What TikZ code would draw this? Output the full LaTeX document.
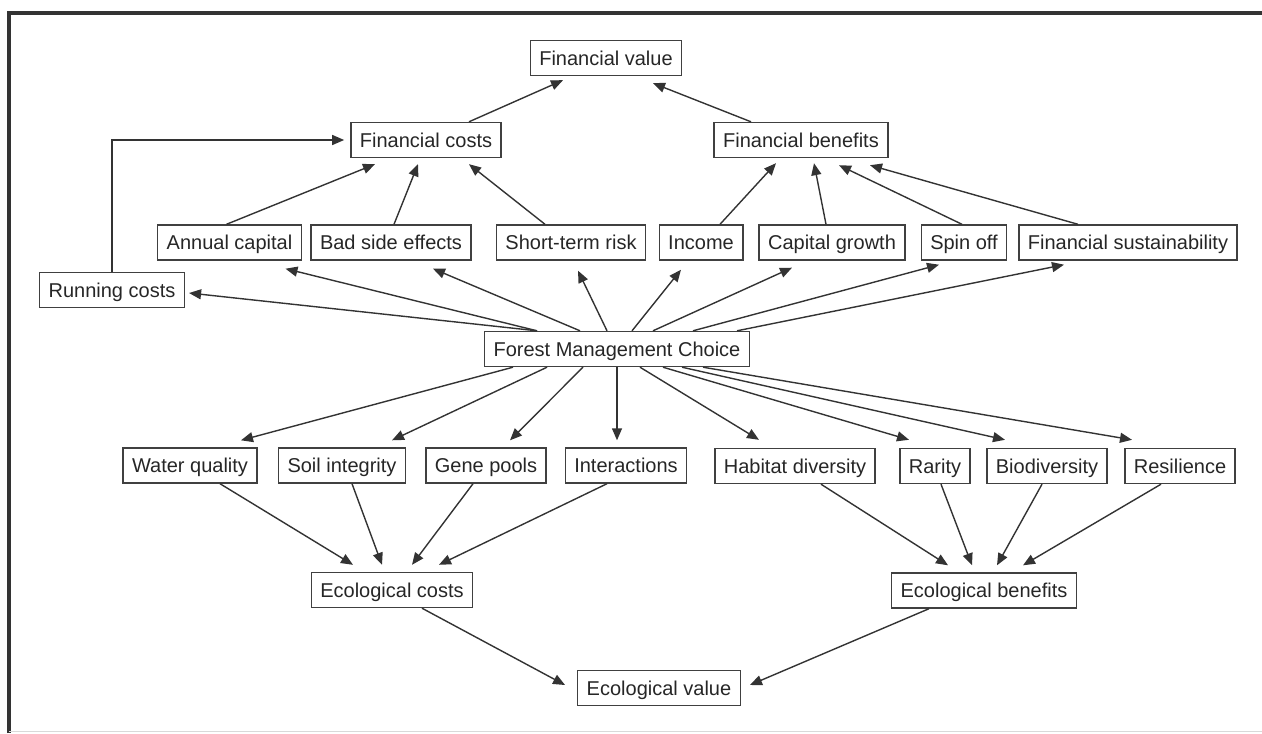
\documentclass[tikz,border=0pt]{standalone}
\usepackage{fontspec}
\setmainfont{Liberation Sans}
\usetikzlibrary{arrows.meta,calc}

\begin{document}
\begin{tikzpicture}[-{Triangle[length=6pt,width=5pt]},x=0.5pt,y=-0.5pt,line width=0.7pt,draw=black!80]
			\tikzstyle{box} = [rectangle,draw=black!75,line width=0.7pt,text=black!85,inner xsep=4.5pt,minimum height=17.5pt,text height=8pt,text depth=0.8pt]
			
			\useasboundingbox (0,0) rectangle (1262,733);
			\draw[-,line width=2pt,black!80] (9,733) -- (9,13) -- (1262,13);
			\draw[-,line width=0.5pt,black!15] (9,731) -- (1262,731);
			
			\node[box] (fv)  at (606,58)    {Financial value};
			\node[box] (fc)  at (426,140)   {Financial costs};
			\node[box] (fb)  at (801,140)   {Financial benefits};
			
			\node[box] (ac)  at (229.5,242.5) {Annual capital};
			\node[box] (bse) at (391,242.5)   {Bad side effects};
			\node[box] (str) at (571,242.5)   {Short-term risk};
			\node[box] (inc) at (701,242.5)   {Income};
			\node[box] (cg)  at (832,242.5)   {Capital growth};
			\node[box] (so)  at (964,242.5)   {Spin off};
			\node[box] (fs)  at (1128,242.5)  {Financial sustainability};
			\node[box] (rc)  at (112,290)     {Running costs};
			
			\node[box] (fmc) at (617,349)   {Forest Management Choice};
			
			\node[box] (wq)    at (190,465.5) {Water quality};
			\node[box] (si)    at (342,465.5) {Soil integrity};
			\node[box] (gp)    at (486,465.5) {Gene pools};
			\node[box] (inter) at (626,465.5) {Interactions};
			\node[box] (hd)    at (795,466)   {Habitat diversity};
			\node[box] (rar)   at (935,466)   {Rarity};
			\node[box] (bio)   at (1047,466)  {Biodiversity};
			\node[box] (res)   at (1180,466)  {Resilience};
			
			\node[box] (ec)  at (392,590)   {Ecological costs};
			\node[box] (eb)  at (984,590.5) {Ecological benefits};
			\node[box] (ev)  at (659,688)   {Ecological value};
			
			% financial side
			\draw ($(fc.north)+(43,0)$)  -- ($(fv.south)+(-43,4)$);
			\draw ($(fb.north)+(-50,0)$) -- ($(fv.south)+(47,7)$);
			\draw ($(ac.north)+(-3,0)$)  -- ($(fc.south)+(-51,6)$);
			\draw ($(bse.north)+(3,0)$)  -- ($(fc.south)+(-8,6)$);
			\draw ($(str.north)+(-26,0)$) -- ($(fc.south)+(43,6)$);
			\draw ($(inc.north)+(19,0)$) -- ($(fb.south)+(-25,5)$);
			\draw ($(cg.north)+(-6,0)$)  -- ($(fb.south)+(13,5)$);
			\draw ($(so.north)+(-2,0)$)  -- ($(fb.south)+(38,7)$);
			\draw ($(fs.north)+(-50,0)$) -- ($(fb.south)+(69,7)$);
			\draw (rc.north) |- ($(fc.west)+(-6,0)$);
			
			\draw ($(fmc.north)+(-80,0)$) -- ($(rc.east)+(4,3)$);
			\draw ($(fmc.north)+(-80,0)$) -- ($(ac.south)+(56,8)$);
			\draw ($(fmc.north)+(-37,0)$) -- ($(bse.south)+(42,8)$);
			\draw ($(fmc.north)+(-10,0)$) -- ($(str.south)+(7,10)$);
			\draw ($(fmc.north)+(15,0)$)  -- ($(inc.south)+(-20,9)$);
			\draw ($(fmc.north)+(36,0)$)  -- ($(cg.south)+(-40,7)$);
			\draw ($(fmc.north)+(76,0)$)  -- ($(so.south)+(-25,4)$);
			\draw ($(fmc.north)+(120,0)$) -- ($(fs.south)+(-64,4)$);
			
			% ecological side
			\draw ($(fmc.south)+(-104,0)$) -- ($(wq.north)+(51,-7)$);
			\draw ($(fmc.south)+(-70,0)$)  -- ($(si.north)+(50,-7)$);
			\draw ($(fmc.south)+(-34,0)$)  -- ($(gp.north)+(24,-7)$);
			\draw (fmc.south) -- ($(fmc.south |- inter.north)+(0,-7)$);
			\draw ($(fmc.south)+(23,0)$)   -- ($(hd.north)+(-36,-8)$);
			\draw ($(fmc.south)+(46,0)$)   -- ($(rar.north)+(-26,-8)$);
			\draw ($(fmc.south)+(65,0)$)   -- ($(bio.north)+(-42,-8)$);
			\draw ($(fmc.south)+(86,0)$)   -- ($(res.north)+(-48,-8)$);
			
			\draw ($(wq.south)+(30,0)$)     -- ($(ec.north)+(-39,-7)$);
			\draw ($(si.south)+(10,0)$)     -- ($(ec.north)+(-10,-7)$);
			\draw ($(gp.south)+(-13,0)$)    -- ($(ec.north)+(20,-7)$);
			\draw ($(inter.south)+(-19,0)$) -- ($(ec.north)+(47,-7)$);
			\draw ($(hd.south)+(26,0)$)     -- ($(eb.north)+(-36,-7)$);
			\draw ($(rar.south)+(6,0)$)     -- ($(eb.north)+(-12,-7)$);
			\draw ($(bio.south)+(-5,0)$)    -- ($(eb.north)+(13,-7)$);
			\draw ($(res.south)+(-19,0)$)   -- ($(eb.north)+(39,-7)$);
			
			\draw ($(ec.south)+(30,0)$)  -- ($(ev.west)+(-12,-3)$);
			\draw ($(eb.south)+(-55,0)$) -- ($(ev.east)+(9,-3)$);
		\end{tikzpicture}
\end{document}
